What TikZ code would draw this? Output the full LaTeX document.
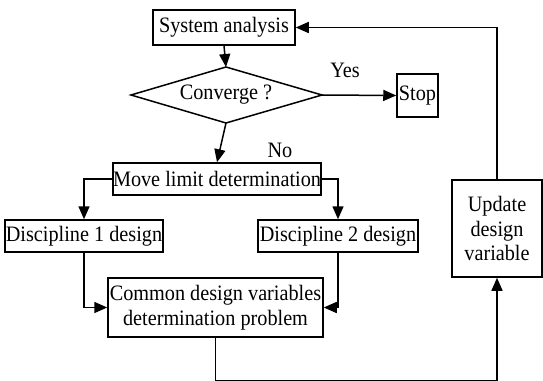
\documentclass[tikz,border=0pt]{standalone}
\usepackage{fontspec}
\setmainfont[FakeStretch=0.92]{Liberation Serif}
\usetikzlibrary{arrows.meta}
\begin{document}
\begin{tikzpicture}[x=1pt,y=-1pt,
  every node/.style={font=\fontsize{22}{24.5}\selectfont},
  box/.style={draw,line width=1.5pt,inner sep=0pt,align=center},
  conn/.style={line width=1.5pt},
  arr/.style={conn,-{Triangle[length=13pt,width=11pt]}}]
\useasboundingbox (0,0) rectangle (543,380);
\node[box,minimum width=142pt,minimum height=35pt] (sys) at (224,27.5) {System analysis};
\coordinate (ct) at (226,67);
\coordinate (cb) at (226,123);
\coordinate (cl) at (131,95);
\coordinate (cr) at (322,95);
\draw[line width=1.5pt] (ct) -- (cr) -- (cb) -- (cl) -- cycle;
\node (conv) at (226,95) {Converge ?};
\node[box,minimum width=41pt,minimum height=43pt] (stop) at (417.5,95.5) {Stop};
\node (yes) at (345,70) {Yes};
\node (no) at (280,150) {No};
\node[box,minimum width=208pt,minimum height=32pt] (move) at (217,179) {Move limit determination};
\node[box,minimum width=158pt,minimum height=32pt] (d1) at (84,236) {Discipline 1 design};
\node[box,minimum width=160pt,minimum height=32pt] (d2) at (338,236) {Discipline 2 design};
\node[box,minimum width=215pt,minimum height=59pt] (common) at (215.5,307.5) {Common design variables\\determination problem};
\node[box,minimum width=90pt,minimum height=97pt] (update) at (497,228.5) {Update\\design\\variable};
\coordinate (b1) at (215.5,380.5);
\coordinate (b2) at (497,380.5);
\draw[arr] (sys.south) -- (ct);
\draw[arr] (cr) -- (stop.west);
\draw[arr] (cb) -- (move.north);
\draw[arr] (move.west) -| (d1.north);
\draw[arr] (move.east) -| (d2.north);
\draw[arr] (d1.south) |- (common.west);
\draw[arr] (d2.south) |- (common.east);
\draw[conn] (common.south) -- (b1) -- (b2);
\draw[arr] (b2) -- (update.south);
\draw[arr] (update.north) |- (sys.east);
\end{tikzpicture}
\end{document}
